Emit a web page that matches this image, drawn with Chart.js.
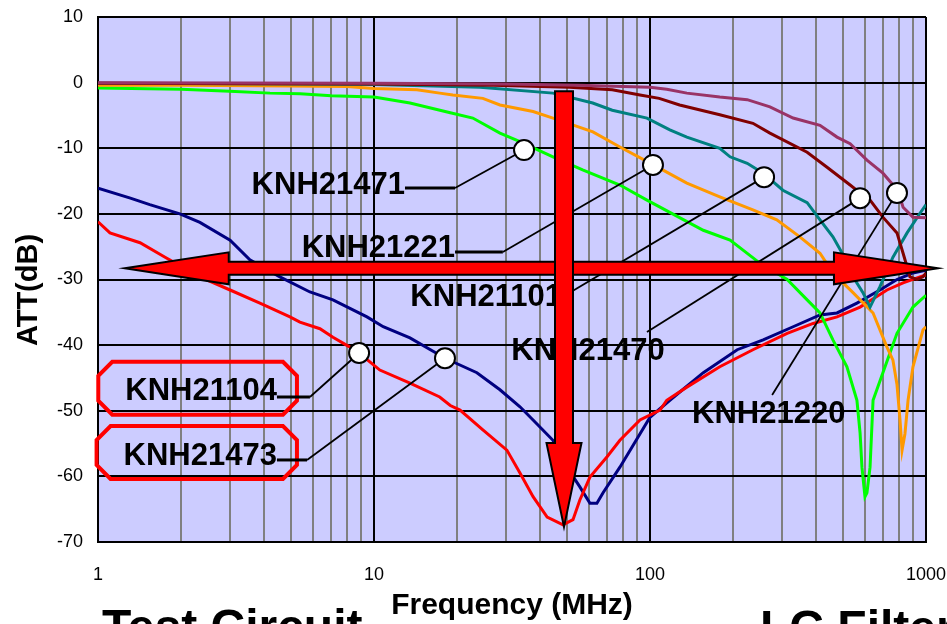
<!DOCTYPE html>
<html>
<head>
<meta charset="utf-8">
<script src="https://cdn.jsdelivr.net/npm/chart.js@4.4.1/dist/chart.umd.min.js"></script>
<style>
html, body { margin: 0; padding: 0; background: #fff; }
</style>
</head>
<body>
<canvas id="attChart" width="947" height="624"></canvas>
<script>
// log axis grid / labels
var freqTicks = [1,2,3,4,5,6,7,8,9,10,20,30,40,50,60,70,80,90,100,200,300,400,500,600,700,800,900,1000];
var freqLabels = [1, 10, 100, 1000];

// curves (MHz / dB)
var knh21220Freq = [1, 10, 30, 55, 100, 115, 136, 179, 225, 272, 330, 413, 476, 531, 611, 698, 785, 805, 826, 897, 1000];
var knh21220Att  = [0, -0.1, -0.2, -0.4, -0.7, -1.0, -1.6, -2.2, -2.6, -3.7, -5.4, -6.5, -8.3, -9.3, -11.8, -13.8, -16.3, -17.5, -19, -20.5, -20.6];

var knh21470Freq = [1, 10, 27, 51, 73, 92, 108, 128, 179, 236, 272, 371, 438, 531, 577, 627, 698, 785, 826, 875, 927, 975, 1000];
var knh21470Att  = [-0.1, -0.2, -0.4, -0.7, -1.1, -1.9, -2.4, -3.4, -4.9, -6.2, -7.7, -10.6, -12.9, -15.6, -16.8, -17.9, -20.5, -22.9, -26, -29.6, -30, -29.6, -29];

var knh21101Freq = [1, 5, 10, 16.4, 24.2, 44.5, 62, 73, 97.5, 118, 136, 179, 195, 225, 257, 303, 371, 413, 460, 497, 544, 591, 627, 681, 759, 854, 951, 1000];
var knh21101Att  = [-0.1, -0.2, -0.3, -0.5, -0.7, -1.6, -3.1, -4.2, -5.4, -7.2, -8.3, -10, -11.3, -12.3, -13.8, -16.4, -18.3, -20.9, -23.5, -26, -29.6, -32, -34.2, -31.1, -26.6, -22.9, -19.9, -18.6];

var knh21221Freq = [1, 2, 5, 8, 10, 14.3, 17.3, 19.3, 24.8, 28.6, 37.7, 44.5, 62.1, 77.8, 102.5, 136, 179, 236, 288, 349, 413, 460, 544, 643, 722, 759, 785, 805, 819, 839, 861, 897, 975, 1000];
var knh21221Att  = [-0.4, -0.4, -0.5, -0.6, -0.9, -1.1, -1.6, -1.9, -2.4, -3.4, -4.4, -5.4, -7.5, -9.8, -12.5, -15.3, -17.4, -19.4, -20.9, -23.5, -26, -29, -32, -35.1, -40.3, -42.3, -46, -51.4, -56, -53.5, -48.4, -43.3, -37.7, -37.2];

var knh21471Freq = [1, 2, 3, 4.2, 5.4, 7, 10, 13.5, 18.9, 22.8, 28.6, 33.8, 44.5, 57, 77.8, 97.5, 156, 195, 250, 314, 371, 413, 460, 517, 562, 577, 586, 601, 611, 627, 643, 698, 785, 897, 1000];
var knh21471Att  = [-0.8, -1.0, -1.3, -1.6, -1.7, -2.0, -2.2, -3.1, -4.6, -5.4, -7.7, -9.0, -11.3, -13.3, -15.6, -17.9, -22.5, -24, -27.5, -30, -33.1, -35.1, -39.2, -43.3, -48.4, -53.4, -58.6, -63.1, -62.5, -58.6, -48.4, -44.2, -38.2, -34.2, -32.4];

var knh21104Freq = [1, 1.105, 1.42, 1.75, 2.34, 3.01, 3.86, 4.96, 5.39, 6.37, 7.1, 8.18, 8.83, 10.5, 13.5, 17.3, 18.9, 20.5, 24.8, 30.3, 33.8, 37.7, 42.4, 48.4, 52.6, 55.7, 60.6, 69.9, 77.8, 92, 108.7, 115, 136, 179, 236, 314, 390, 476, 577, 722, 826, 951, 1000];
var knh21104Att  = [-21.2, -22.9, -24.4, -26.6, -29.6, -31.6, -33.6, -35.7, -36.5, -37.5, -38.8, -40.3, -41.2, -43.8, -45.8, -47.9, -49.2, -49.9, -52.9, -56, -59.5, -63.1, -66.2, -67.4, -66.6, -63.6, -60.1, -57, -54.5, -51.4, -49.9, -48.4, -46.4, -43.3, -40.7, -38.2, -36.7, -35.7, -34.2, -31.6, -30.5, -29.6, -29.3];

var knh21473Freq = [1, 1.31, 1.54, 1.98, 2.34, 3.01, 3.55, 4.56, 5.86, 7.1, 9.43, 10.8, 13.5, 18.1, 23.6, 28.6, 33.8, 37.7, 44.5, 50, 55.7, 60.6, 64.2, 67.6, 77.8, 100, 118, 156, 207, 257, 330, 413, 476, 562, 681, 785, 897, 1000];
var knh21473Att  = [-16.1, -17.6, -18.6, -20.0, -21.3, -24, -27, -29.6, -31.9, -33.1, -35.7, -37.2, -38.9, -42, -44.2, -46.8, -49.4, -51.4, -54.5, -58.6, -61.6, -64.1, -64.1, -62.5, -58.6, -51, -48.4, -44.2, -40.7, -39.2, -37.2, -35.4, -35.1, -33.6, -31.6, -30, -29, -28.6];

// call-out labels: text anchor, leader start, optional elbow, marker (all in MHz / dB)
var calloutText  = ['KNH21471', 'KNH21221', 'KNH21101', 'KNH21470', 'KNH21220', 'KNH21104', 'KNH21473'];
var calloutAlign = ['right', 'right', 'right', 'right', 'left', 'right', 'right'];
var calloutBox   = [false, false, false, false, false, true, true];
var textFreq  = [12.95, 19.66, 48, 113, 142, 4.45, 4.45];
var textAtt   = [-15.6, -25.3, -32.7, -40.9, -50.6, -47.1, -56.9];
var leadFreq  = [12.95, 19.66, 48, 97.5, 277, 4.45, 4.45];
var leadAtt   = [-16.06, -25.8, -32.7, -38.0, -47.6, -47.9, -57.5];
var elbowFreq = [19.66, 29.3, null, null, null, 5.86, 5.72];
var dotFreq   = [34.96, 102.5, 259, 577, 785, 8.83, 18.08];
var dotAtt    = [-10.27, -12.55, -14.4, -17.6, -16.8, -41.2, -42.0];

// big red arrows
var hArrowAtt = -28.3, hArrowFrom = 1.25, hArrowTo = 1105;
var vArrowFreq = 48.8, vArrowFrom = -1.3, vArrowTo = -67.7;

var labelFont = 'bold 31px "Liberation Sans", Arial, sans-serif';

function makePoints(freqs, atts) {
	var pts = [];
	for (var i = 0; i < freqs.length; i++) {
		pts.push({x: freqs[i], y: atts[i]});
	}
	return pts;
}

function lineSet(name, color, freqs, atts) {
	return {label: name,
			borderColor: color,
			data: makePoints(freqs, atts),
			pointRadius: 0,
			fill: false,
			tension: 0,
			borderWidth: 3};
}

function arrowPaint(ctx) {
	ctx.fillStyle = '#ff0000';
	ctx.strokeStyle = '#000';
	ctx.lineWidth = 2;
	ctx.lineJoin = 'miter';
	ctx.fill();
	ctx.stroke();
}

var decorPlugin = {
	id: 'decor',
	beforeDraw: function(chart) {
		var a = chart.chartArea, ctx = chart.ctx;
		ctx.save();
		ctx.fillStyle = '#ccccff';
		ctx.fillRect(a.left, a.top, a.right - a.left, a.bottom - a.top);
		ctx.restore();
	},
	afterDatasetsDraw: function(chart) {
		var ctx = chart.ctx, xs = chart.scales.x, ys = chart.scales.y;
		ctx.save();
		ctx.font = labelFont;
		ctx.textBaseline = 'middle';

		// labels, leaders, markers
		for (var i = 0; i < calloutText.length; i++) {
			var tx = xs.getPixelForValue(textFreq[i]);
			var ty = ys.getPixelForValue(textAtt[i]);
			var w = ctx.measureText(calloutText[i]).width;
			var left = calloutAlign[i] == 'right' ? tx - w : tx;
			if (calloutBox[i]) {
				var bl = left - 27, br = left + w + 20, bt = ty - 30, bb = ty + 23, c = 14;
				ctx.beginPath();
				ctx.moveTo(bl + c, bt);
				ctx.lineTo(br - c, bt);
				ctx.lineTo(br, bt + c);
				ctx.lineTo(br, bb - c);
				ctx.lineTo(br - c, bb);
				ctx.lineTo(bl + c, bb);
				ctx.lineTo(bl, bb - c);
				ctx.lineTo(bl, bt + c);
				ctx.closePath();
				ctx.strokeStyle = '#ff0000';
				ctx.lineWidth = 4;
				ctx.stroke();
			}
			ctx.fillStyle = '#000';
			ctx.textAlign = 'left';
			ctx.fillText(calloutText[i], left, ty);

			var sx = xs.getPixelForValue(leadFreq[i]);
			var sy = ys.getPixelForValue(leadAtt[i]);
			var dx = xs.getPixelForValue(dotFreq[i]);
			var dy = ys.getPixelForValue(dotAtt[i]);
			ctx.strokeStyle = '#000';
			if (elbowFreq[i] !== null) {
				var ex = xs.getPixelForValue(elbowFreq[i]);
				ctx.lineWidth = 3;
				ctx.beginPath();
				ctx.moveTo(sx, sy);
				ctx.lineTo(ex, sy);
				ctx.stroke();
				sx = ex;
			}
			ctx.lineWidth = 1.8;
			ctx.beginPath();
			ctx.moveTo(sx, sy);
			ctx.lineTo(dx, dy);
			ctx.stroke();

			ctx.beginPath();
			ctx.arc(dx, dy, 10, 0, Math.PI * 2);
			ctx.fillStyle = '#fff';
			ctx.fill();
			ctx.lineWidth = 2;
			ctx.stroke();
		}

		// horizontal double arrow
		var y = ys.getPixelForValue(hArrowAtt);
		var x1 = xs.getPixelForValue(hArrowFrom);
		var x2 = xs.getPixelForValue(hArrowTo);
		var hl = 104, hh = 16, bh = 6.5;
		ctx.beginPath();
		ctx.moveTo(x1, y);
		ctx.lineTo(x1 + hl, y - hh);
		ctx.lineTo(x1 + hl, y - bh);
		ctx.lineTo(x2 - hl, y - bh);
		ctx.lineTo(x2 - hl, y - hh);
		ctx.lineTo(x2, y);
		ctx.lineTo(x2 - hl, y + hh);
		ctx.lineTo(x2 - hl, y + bh);
		ctx.lineTo(x1 + hl, y + bh);
		ctx.lineTo(x1 + hl, y + hh);
		ctx.closePath();
		arrowPaint(ctx);

		// vertical arrow
		var vx = xs.getPixelForValue(vArrowFreq);
		var y1 = ys.getPixelForValue(vArrowFrom);
		var y2 = ys.getPixelForValue(vArrowTo);
		var vl = 84, vh = 17.5, vb = 9;
		ctx.beginPath();
		ctx.moveTo(vx - vb, y1);
		ctx.lineTo(vx + vb, y1);
		ctx.lineTo(vx + vb, y2 - vl);
		ctx.lineTo(vx + vh, y2 - vl);
		ctx.lineTo(vx, y2);
		ctx.lineTo(vx - vh, y2 - vl);
		ctx.lineTo(vx - vb, y2 - vl);
		ctx.closePath();
		arrowPaint(ctx);
		ctx.restore();
	},
	afterDraw: function(chart) {
		var ctx = chart.ctx;
		ctx.save();
		ctx.fillStyle = '#000';
		// y axis title
		ctx.font = 'bold 29px "Liberation Sans", Arial, sans-serif';
		ctx.textAlign = 'center';
		ctx.textBaseline = 'middle';
		ctx.translate(29, 290);
		ctx.rotate(-Math.PI / 2);
		ctx.fillText('ATT(dB)', 0, 0);
		ctx.restore();

		ctx.save();
		ctx.fillStyle = '#000';
		ctx.font = 'bold 48px "Liberation Sans", Arial, sans-serif';
		ctx.textAlign = 'left';
		ctx.textBaseline = 'alphabetic';
		ctx.fillText('Test Circuit', 102, 643);
		ctx.fillText('LC Filter', 760, 644);
		ctx.restore();
	}
};

var ctxAtt = document.getElementById('attChart').getContext('2d');

window.attChart = new Chart(ctxAtt, {
	type: 'line',
	data: {
		datasets: [
			lineSet('KNH21220', '#993366', knh21220Freq, knh21220Att),
			lineSet('KNH21470', '#800000', knh21470Freq, knh21470Att),
			lineSet('KNH21101', '#008080', knh21101Freq, knh21101Att),
			lineSet('KNH21221', '#ff9900', knh21221Freq, knh21221Att),
			lineSet('KNH21471', '#00ff00', knh21471Freq, knh21471Att),
			lineSet('KNH21104', '#ff0000', knh21104Freq, knh21104Att),
			lineSet('KNH21473', '#000080', knh21473Freq, knh21473Att)
		]
	},
	options: {
		responsive: false,
		animation: false,
		layout: {padding: {left: 0, right: 21, top: 17, bottom: 0}},
		plugins: {
			legend: {display: false},
			tooltip: {enabled: false}
		},
		scales: {
			x: {
				type: 'logarithmic',
				min: 1,
				max: 1000,
				afterBuildTicks: function(scale) {
					scale.ticks = freqTicks.map(function(v) { return {value: v}; });
				},
				afterFit: function(scale) {
					scale.height = 82;
					scale.paddingLeft = 0;
					scale.paddingRight = 0;
				},
				grid: {
					drawTicks: false,
					lineWidth: 2,
					color: function(c) {
						return freqLabels.indexOf(c.tick.value) >= 0 ? '#000' : '#808080';
					}
				},
				border: {display: true, color: '#000', width: 2},
				ticks: {
					autoSkip: false,
					maxRotation: 0,
					padding: 22,
					color: '#000',
					font: {family: '"Liberation Sans", Arial, sans-serif', size: 18},
					callback: function(value) {
						return freqLabels.indexOf(value) >= 0 ? String(value) : '';
					}
				},
				title: {
					display: true,
					text: 'Frequency (MHz)',
					color: '#000',
					padding: {top: 0, bottom: 0},
					font: {family: '"Liberation Sans", Arial, sans-serif', size: 30, weight: 'bold'}
				}
			},
			y: {
				min: -70,
				max: 10,
				afterFit: function(scale) {
					scale.width = 98;
					scale.paddingTop = 0;
					scale.paddingBottom = 0;
				},
				grid: {drawTicks: false, lineWidth: 2, color: '#000'},
				border: {display: true, color: '#000', width: 2},
				ticks: {
					stepSize: 10,
					padding: 15,
					color: '#000',
					font: {family: '"Liberation Sans", Arial, sans-serif', size: 18}
				}
			}
		}
	},
	plugins: [decorPlugin]
});
</script>
</body>
</html>
